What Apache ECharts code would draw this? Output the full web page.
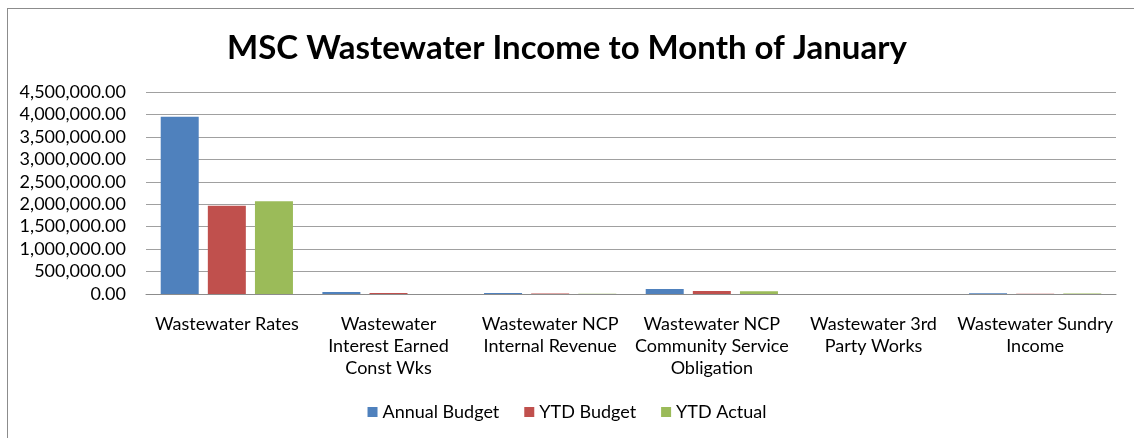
<!DOCTYPE html>
<html>
<head>
<meta charset="utf-8">
<script src="https://cdn.jsdelivr.net/npm/echarts@6/dist/echarts.min.js"></script>
<style>
  body { margin: 0; background: #fff; }
  #wrap { position: relative; width: 1134px; height: 438px; overflow: hidden; }
  #myChart { position: absolute; left: 0; top: 0; width: 1134px; height: 438px; }
  #frame { position: absolute; left: 7px; top: 8px; width: 1140px; height: 440px; border: 1px solid #8c8c8c; pointer-events: none; }
</style>
</head>
<body>
<div id="wrap">
  <div id="myChart"></div>
  <div id="frame"></div>
</div>
<script>
var categories = [
  "Wastewater Rates",
  "Wastewater\nInterest Earned\nConst Wks",
  "Wastewater NCP\nInternal Revenue",
  "Wastewater NCP\nCommunity Service\nObligation",
  "Wastewater 3rd\nParty Works",
  "Wastewater Sundry\nIncome"
];
var annualBudget = [3950000, 45000, 25000, 110000, 0, 15000];
var ytdBudget = [1967000, 20000, 12000, 65000, 0, 3000];
var ytdActual = [2064000, 0, 5000, 60000, 0, 10000];

var font = "Lato";
var myChart = echarts.init(document.getElementById("myChart"));
myChart.setOption({
  textStyle: { fontFamily: font },
  title: {
    text: "MSC Wastewater Income to Month of January",
    left: "center",
    top: 27,
    textStyle: { fontFamily: font, fontSize: 33, fontWeight: "bold", color: "#000" }
  },
  legend: {
    bottom: 12,
    left: "center",
    itemWidth: 10,
    itemHeight: 10,
    itemGap: 25,
    icon: "rect",
    textStyle: { fontFamily: font, fontSize: 18, color: "#000" },
    data: ["Annual Budget", "YTD Budget", "YTD Actual"]
  },
  grid: { left: 146, right: 18, top: 92, bottom: 144 },
  xAxis: {
    type: "category",
    data: categories,
    axisLine: { lineStyle: { color: "#8c8c8c" } },
    axisTick: { show: false },
    axisLabel: {
      interval: 0,
      fontFamily: font,
      fontSize: 18,
      color: "#000",
      lineHeight: 22,
      margin: 19
    }
  },
  yAxis: {
    type: "value",
    min: 0,
    max: 4500000,
    interval: 500000,
    axisLine: { show: false },
    axisTick: { show: false },
    splitLine: { lineStyle: { color: "#a0a0a0", width: 1 } },
    axisLabel: {
      fontFamily: font,
      fontSize: 18,
      color: "#000",
      margin: 20,
      formatter: function (v) {
        return v.toLocaleString("en-US", { minimumFractionDigits: 2, maximumFractionDigits: 2 });
      }
    }
  },
  series: [
    { name: "Annual Budget", type: "bar", data: annualBudget, barWidth: 38, barGap: "24%",
      itemStyle: { color: "#4f81bd" } },
    { name: "YTD Budget", type: "bar", data: ytdBudget, barWidth: 38, barGap: "24%",
      itemStyle: { color: "#c0504d" } },
    { name: "YTD Actual", type: "bar", data: ytdActual, barWidth: 38, barGap: "24%",
      itemStyle: { color: "#9bbb59" } }
  ]
});
</script>
</body>
</html>
